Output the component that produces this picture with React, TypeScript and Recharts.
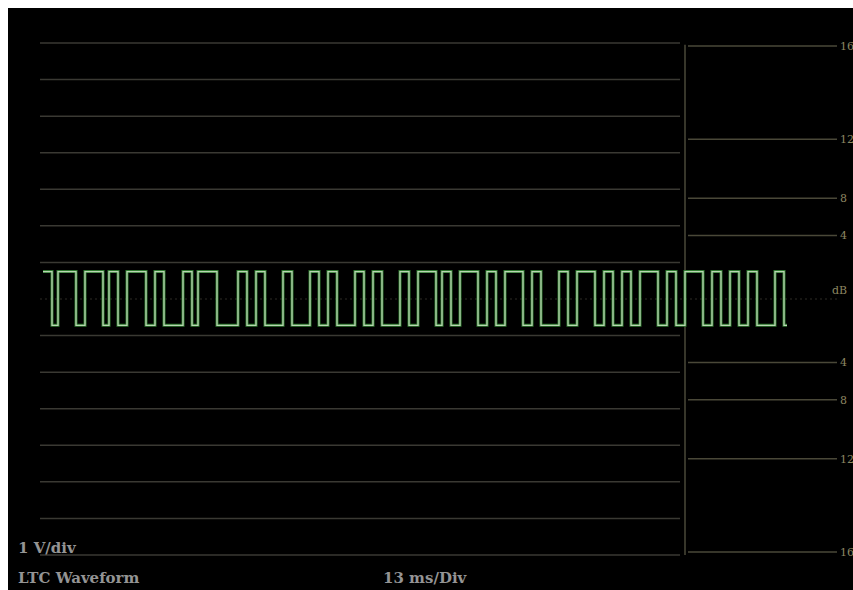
import React from 'react';
import { ComposedChart, Line, XAxis, YAxis, ReferenceLine } from 'recharts';

// Waveform edge times (time units), level toggles at each edge, starting high
const edgeTimes = [3, 12, 18, 36, 45, 63, 69, 78, 87, 106, 115, 124, 143, 152, 158, 177, 198, 207, 216, 225, 243, 252, 270, 279, 288, 297, 315, 324, 333, 342, 360, 369, 378, 396, 402, 411, 420, 438, 447, 456, 465, 483, 492, 501, 519, 528, 537, 555, 564, 573, 582, 591, 600, 618, 627, 636, 645, 663, 672, 681, 690, 699, 708, 717, 735, 744, 747];
const highLevel = 0.75;
const lowLevel = -0.72;

// Voltage grid (divisions)
const voltTicks = [-7, -6, -5, -4, -3, -2, -1, 1, 2, 3, 4, 5, 6, 7];
// Right meter ticks in dB (amplitude scale); full scale (top) is 16 dB
const meterDb = [16, 12, 8, 4];
const meterTopDb = 16;
const meterFullScale = 6.92; // divisions
const meterLabels = ['16', '12', '8', '4'];

const waveData = edgeTimes.map((t, i) => ({
  t,
  v: i === edgeTimes.length - 1 ? ((i - 1) % 2 === 0 ? highLevel : lowLevel) : i % 2 === 0 ? highLevel : lowLevel,
}));

const W = 845;
const H = 582;
const gridColor = '#3a3933';
const meterColor = '#4a4838';
const labelColor = '#8c8660';
const textColor = '#949494';

export default function App() {
  const meterLines: { y: number; label: string }[] = [];
  meterDb.forEach((db, i) => {
    const a = Math.pow(10, (db - meterTopDb) / 20) * meterFullScale;
    meterLines.push({ y: a, label: meterLabels[i] });
    meterLines.push({ y: -a, label: meterLabels[i] });
  });
  const textStyle: React.CSSProperties = {
    position: 'absolute',
    color: textColor,
    fontFamily: 'DejaVu Serif',
    fontSize: 15,
    fontWeight: 'bold',
    lineHeight: '18px',
    whiteSpace: 'nowrap',
  };
  return (
    <div style={{ position: 'fixed', left: 8, top: 8, width: W, height: H, background: '#000', overflow: 'hidden' }}>
      <ComposedChart
        width={W}
        height={H}
        data={waveData}
        margin={{ top: 35, right: 13, bottom: 35, left: 32 }}
      >
        <XAxis dataKey="t" type="number" domain={[0, 800]} allowDataOverflow hide />
        <YAxis yAxisId="v" type="number" domain={[-7, 7]} allowDataOverflow hide />
        {voltTicks.map((y) => (
          <ReferenceLine
            key={'g' + y}
            yAxisId="v"
            segment={[{ x: 0, y }, { x: 640, y }]}
            stroke={gridColor}
            strokeWidth={1.5}
            ifOverflow="visible"
          />
        ))}
        <ReferenceLine yAxisId="v" y={0} stroke="#2e2d26" strokeDasharray="2 3" strokeWidth={1.2} />
        <ReferenceLine
          yAxisId="v"
          segment={[{ x: 645, y: 6.95 }, { x: 645, y: -7 }]}
          stroke={meterColor}
          strokeWidth={1.5}
          ifOverflow="visible"
        />
        {meterLines.map((m) => (
          <ReferenceLine
            key={'m' + m.y}
            yAxisId="v"
            segment={[{ x: 648, y: m.y }, { x: 797, y: m.y }]}
            stroke={meterColor}
            strokeWidth={1.5}
            ifOverflow="visible"
            label={{ value: m.label, position: 'right', fill: labelColor, fontSize: 11, fontFamily: 'DejaVu Serif', offset: 3 }}
          />
        ))}
        <Line
          yAxisId="v"
          dataKey="v"
          type="stepAfter"
          stroke="#2f7a2f"
          strokeWidth={3}
          dot={false}
          isAnimationActive={false}
        />
        <Line
          yAxisId="v"
          dataKey="v"
          type="stepAfter"
          stroke="#b9d6b2"
          strokeWidth={1.3}
          dot={false}
          isAnimationActive={false}
        />
      </ComposedChart>
      <span style={{ position: 'absolute', left: 824, top: 276, color: labelColor, fontFamily: 'DejaVu Serif', fontSize: 11 }}>dB</span>
      <span style={{ ...textStyle, left: 10, top: 531 }}>1 V/div</span>
      <span style={{ ...textStyle, left: 10, top: 561 }}>LTC Waveform</span>
      <span style={{ ...textStyle, left: 375, top: 561 }}>13 ms/Div</span>
    </div>
  );
}
